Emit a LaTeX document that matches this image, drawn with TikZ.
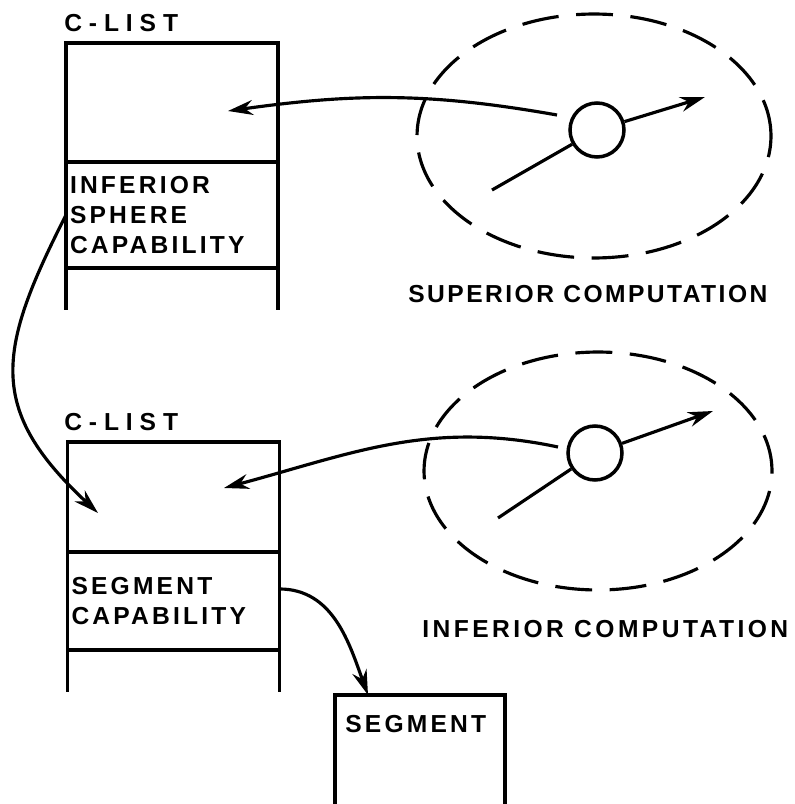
\documentclass[tikz,border=0pt]{standalone}
\usepackage{fontspec}
\setmainfont{Liberation Sans}[LetterSpace=13]
\usetikzlibrary{shapes, arrows.meta, calc, positioning}
\tikzset{listcell/.style={draw, rectangle, line width=2pt, outer sep=0pt, inner xsep=0.08cm, text width=4.08cm, align=left, font=\fontsize{14}{17}\selectfont\bfseries}}
\tikzset{sphere/.style={draw, ellipse, line width=1.8pt, inner sep=0pt, dash pattern=on 21pt off 10pt}}
\tikzset{dot/.style={draw, circle, line width=2pt, inner sep=0pt, minimum size=1.08cm}}
\tikzset{wire/.style={line width=1.8pt}}
\tikzset{pointer/.style={wire, -{Stealth[length=0.5cm, width=0.3cm]}}}
\tikzset{caption/.style={anchor=base west, inner sep=0pt, font=\fontsize{14}{17}\selectfont\bfseries}}
\begin{document}
\begin{tikzpicture}[x=0.02cm, y=0.02cm]
            \useasboundingbox (0, 0) rectangle (794, -804);

            % superior c-list
            \node [caption] (C1) at (64, -32) { \addfontfeatures{LetterSpace=28}C-LIST };
            \node [listcell, minimum height=2.38cm] (L1top) at (172, -102.5) {};
            \node [listcell, minimum height=2.12cm, below=0pt of L1top] (L1cap) { INFERIOR\\ SPHERE\\ CAPABILITY };
            \draw [line width=2pt] (L1cap.south west) -- ++(0, -42);
            \draw [line width=2pt] (L1cap.south east) -- ++(0, -42);

            % inferior c-list
            \node [caption] (C2) at (64, -430) { \addfontfeatures{LetterSpace=28}C-LIST };
            \node [listcell, minimum height=2.2cm] (L2top) at (173.5, -497) {};
            \node [listcell, minimum height=1.96cm, below=0pt of L2top] (L2cap) { SEGMENT\\ CAPABILITY };
            \draw [line width=2pt] (L2cap.south west) -- ++(0, -42);
            \draw [line width=2pt] (L2cap.south east) -- ++(0, -42);

            % segment
            \node [caption] (Seg) at (345, -732) { SEGMENT };
            \draw [line width=2pt] (335, -804) |- (505, -695) -- (505, -804);
            \coordinate (SegTop) at (368, -695);

            % superior computation
            \node [sphere, minimum width=7.08cm, minimum height=4.88cm] (Sup) at (594, -136) {};
            \node [dot] (D1) at (597, -130) {};
            \coordinate (I1) at (492, -190);
            \coordinate (O1) at (705, -97);
            \coordinate (S1) at (557, -115);
            \coordinate (T1) at (228, -111);
            \node [caption] (SupName) at (408, -302) { \addfontfeatures{LetterSpace=10}SUPERIOR COMPUTATION };

            % inferior computation
            \node [sphere, minimum width=6.96cm, minimum height=4.76cm] (Inf) at (598, -471) {};
            \node [dot] (D2) at (595, -453) {};
            \coordinate (I2) at (498, -518);
            \coordinate (O2) at (713, -411);
            \coordinate (S2) at (558, -447);
            \coordinate (T2) at (224, -488);
            \coordinate (T3) at (98, -513);
            \node [caption] (InfName) at (422, -637) { \addfontfeatures{LetterSpace=14}INFERIOR COMPUTATION };

            \draw [wire] (I1) -- (D1);
            \draw [pointer] (D1) -- (O1);
            \draw [wire] (I2) -- (D2);
            \draw [pointer] (D2) -- (O2);

            \draw [pointer] (S1) to [out=170, in=8] (T1);
            \draw [pointer] (S2) to [out=168, in=15] (T2);
            \draw [pointer] (L1cap.west) to [out=243, in=137, looseness=1.3] (T3);
            \draw [pointer] ([yshift=0.24cm] L2cap.east) to [out=0, in=110] (SegTop);
        \end{tikzpicture}
\end{document}
